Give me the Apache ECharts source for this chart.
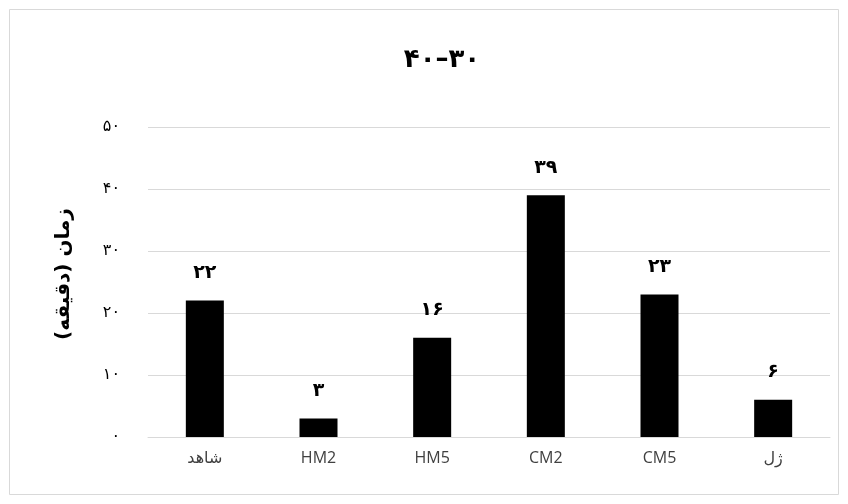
<!DOCTYPE html>
<html>
<head>
<meta charset="utf-8">
<script src="https://cdn.jsdelivr.net/npm/echarts@6/dist/echarts.min.js"></script>
<style>html,body{margin:0;padding:0;background:#fff;}#c{width:848px;height:504px;}</style>
</head>
<body>
<div id="c"></div>
<script>
var categories = ['شاهد', 'HM2', 'HM5', 'CM2', 'CM5', 'ژل'];
var values = [22, 3, 16, 39, 23, 6];
var valueLabels = ['۲۲', '۳', '۱۶', '۳۹', '۲۳', '۶'];
var tickLabels = {0: '۰', 10: '۱۰', 20: '۲۰', 30: '۳۰', 40: '۴۰', 50: '۵۰'};
var titleText = '۴۰–۳۰';
var yName = 'زمان (دقیقه)';

var chart = echarts.init(document.getElementById('c'));
chart.setOption({
  animation: false,
  backgroundColor: '#fff',
  graphic: [
    {type: 'rect', shape: {x: 9.5, y: 9.5, width: 829, height: 485}, style: {fill: 'none', stroke: '#d9d9d9', lineWidth: 1}},
    {type: 'text', x: 64, y: 274, rotation: Math.PI / 2,
      style: {text: yName, fill: '#000', font: 'bold 20px "DejaVu Sans"', textAlign: 'center', textVerticalAlign: 'middle', verticalAlign: 'middle', align: 'center'}}
  ],
  title: {text: titleText, left: 437, textAlign: 'center', top: 42, textStyle: {fontFamily: 'DejaVu Sans', fontSize: 26, fontWeight: 'bold', color: '#000'}},
  grid: {left: 148, right: 18, top: 127, bottom: 67},
  xAxis: {
    type: 'category', data: categories,
    axisLine: {lineStyle: {color: '#d9d9d9'}}, axisTick: {show: false},
    axisLabel: {color: '#404040', fontSize: 16, fontFamily: 'Open Sans, DejaVu Sans', margin: 13}
  },
  yAxis: {
    type: 'value', min: 0, max: 50, interval: 10,
    axisLine: {show: false}, axisTick: {show: false},
    splitLine: {lineStyle: {color: '#d9d9d9'}},
    axisLabel: {formatter: function (v) { return tickLabels[v]; }, color: '#000', fontFamily: 'DejaVu Sans', fontSize: 16, margin: 28}
  },
  series: [{
    type: 'bar', data: values, barWidth: 38,
    itemStyle: {color: '#000'},
    label: {show: true, position: 'top', distance: 18, formatter: function (p) { return valueLabels[p.dataIndex]; },
      fontFamily: 'DejaVu Sans', fontSize: 19, fontWeight: 'bold', color: '#000'}
  }]
});
</script>
</body>
</html>
